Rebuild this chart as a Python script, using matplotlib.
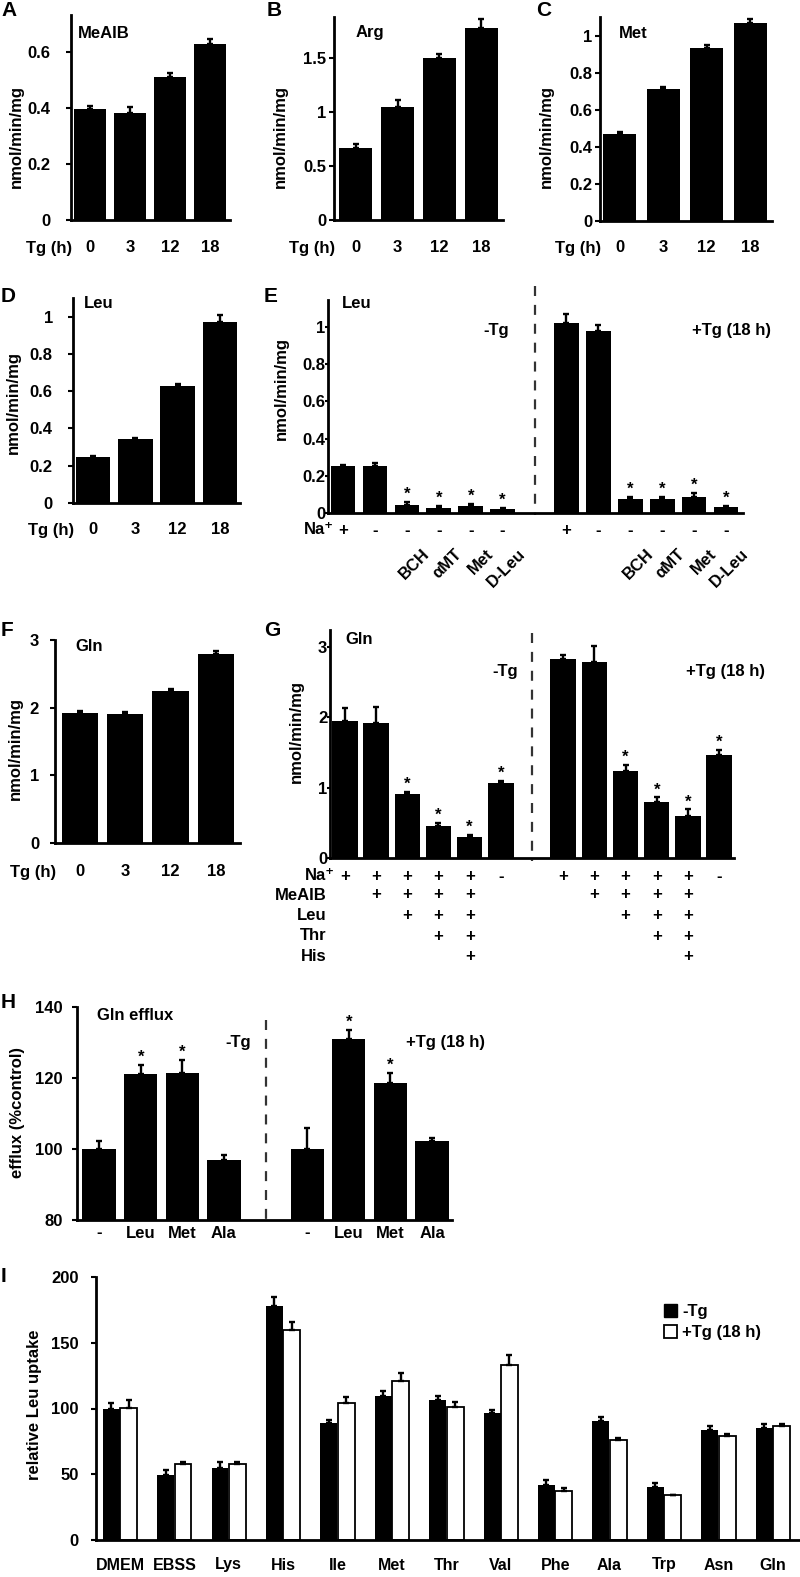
import matplotlib
matplotlib.use("Agg")
import matplotlib.pyplot as plt
from matplotlib.transforms import blended_transform_factory
import numpy as np

plt.rcParams["font.family"] = ["Liberation Sans", "DejaVu Sans"]
plt.rcParams["font.weight"] = "bold"

W, H = 800, 1577
FS = 12

# ---- data ----
tg_hours = ["0", "3", "12", "18"]
meaib = [0.395, 0.38, 0.51, 0.625]
meaib_err = [0.012, 0.022, 0.015, 0.02]
arg = [0.67, 1.05, 1.50, 1.78]
arg_err = [0.03, 0.06, 0.04, 0.08]
met = [0.47, 0.71, 0.935, 1.07]
met_err = [0.01, 0.01, 0.015, 0.02]
leu = [0.245, 0.345, 0.63, 0.97]
leu_err = [0.005, 0.005, 0.01, 0.04]
gln = [1.92, 1.90, 2.25, 2.80]
gln_err = [0.03, 0.03, 0.03, 0.04]

e_na = ["+", "-", "-", "-", "-", "-"]
e_inhib = ["", "", "BCH", "αMT", "Met", "D-Leu"]
e_minus = [0.25, 0.25, 0.045, 0.027, 0.037, 0.022]
e_minus_err = [0.01, 0.02, 0.015, 0.012, 0.013, 0.005]
e_plus = [1.02, 0.98, 0.075, 0.075, 0.085, 0.032]
e_plus_err = [0.05, 0.03, 0.012, 0.012, 0.022, 0.005]
e_star = [False, False, True, True, True, True]

g_rows = ["Na⁺", "MeAIB", "Leu", "Thr", "His"]
g_signs = [["+", "+", "+", "+", "+", "-"],
           ["", "+", "+", "+", "+", ""],
           ["", "", "+", "+", "+", ""],
           ["", "", "", "+", "+", ""],
           ["", "", "", "", "+", ""]]
g_minus = [1.95, 1.92, 0.91, 0.46, 0.30, 1.06]
g_minus_err = [0.18, 0.22, 0.03, 0.04, 0.03, 0.04]
g_plus = [2.83, 2.79, 1.24, 0.80, 0.60, 1.47]
g_plus_err = [0.06, 0.22, 0.08, 0.06, 0.09, 0.07]
g_star = [False, False, True, True, True, True]

h_labels = ["-", "Leu", "Met", "Ala"]
h_minus = [100, 121, 121.5, 97]
h_minus_err = [2.2, 2.7, 3.5, 1.2]
h_plus = [100, 131, 118.5, 102.3]
h_plus_err = [6, 2.5, 3, 0.7]
h_star = [False, True, True, False]

i_labels = ["DMEM", "EBSS", "Lys", "His", "Ile", "Met", "Thr", "Val",
            "Phe", "Ala", "Trp", "Asn", "Gln"]
i_minus = [100, 49.5, 55, 178, 89, 109.5, 106.5, 96.5, 42, 90.5, 40, 83.5, 85]
i_minus_err = [4, 4, 4, 7, 2, 3.5, 3, 2.5, 3.5, 3, 3.5, 3, 3.5]
i_plus = [100.5, 57.5, 58, 159.5, 104.5, 121, 101, 133, 37.5, 76, 34, 79, 87]
i_plus_err = [6, 2, 1.5, 6.5, 4.5, 6, 4, 8, 2, 1.5, 0.5, 1.5, 1.5]

fig = plt.figure(figsize=(W / 100, H / 100), dpi=100)


def fy(y):
    return 1 - y / H


def fx(x):
    return x / W


def make_ax(l, t, r, b, ylim, yticks, ylabels, xlim, pad=3, tlen=3.5):
    ax = fig.add_axes([l / W, 1 - b / H, (r - l) / W, (b - t) / H])
    for s in ["top", "right"]:
        ax.spines[s].set_visible(False)
    for s in ["left", "bottom"]:
        ax.spines[s].set_linewidth(2)
    ax.set_ylim(*ylim)
    ax.set_xlim(*xlim)
    ax.set_yticks(yticks)
    ax.set_yticklabels(ylabels, fontsize=FS, fontweight="bold")
    ax.tick_params(axis="y", length=tlen, width=1.5, pad=pad)
    ax.set_xticks([])
    return ax


def bars(ax, x, vals, errs, color="black", width=0.8, stars=None):
    ax.bar(x, vals, width, color=color, edgecolor="black",
           linewidth=0 if color == "black" else 1.3, zorder=2)
    ax.errorbar(x, vals, yerr=[np.zeros(len(vals)), errs], fmt="none",
                ecolor="black", elinewidth=1.7, capsize=2.5, capthick=1.7, zorder=3)
    if stars:
        for xi, v, e, s in zip(x, vals, errs, stars):
            if s:
                ax.annotate("*", (xi, v + e), xytext=(0, 0), textcoords="offset points",
                            ha="center", va="bottom", fontsize=FS, fontweight="bold")


def row_text(ax, xs, labels, y, fs=FS):
    tr = blended_transform_factory(ax.transData, fig.transFigure)
    for xi, lab in zip(xs, labels):
        ax.text(xi, fy(y), lab, transform=tr, ha="center", va="center",
                fontsize=fs, fontweight="bold")


def letter(x, y, s):
    fig.text(fx(x), fy(y), s, fontsize=15, fontweight="bold", ha="left", va="center")


def ylab(x, y, s):
    fig.text(fx(x), fy(y), s, rotation=90, fontsize=FS, fontweight="bold",
             ha="center", va="center")


def label(x, y, s, ha="left"):
    fig.text(fx(x), fy(y), s, fontsize=FS, fontweight="bold", ha=ha, va="center")


def dashed(ax, x, y0, y1):
    ax.plot([x, x], [y0, y1], transform=blended_transform_factory(ax.transData, fig.transFigure),
            clip_on=False, color="#333333", linestyle=(0, (4.5, 4)), linewidth=1.6)


# ---- simple time-course panels: A, B, C, D, F ----
x4 = np.arange(4)
simple = [
    # letter, box, values, errors, ylim, ticks, tick labels, title, title pos,
    # letter pos, ylabel pos, tick row y, xlim, width, tick pad
    ("A", (71, 15, 230, 220), meaib, meaib_err, (0, 0.73), [0, 0.2, 0.4, 0.6],
     ["0", "0.2", "0.4", "0.6"], "MeAIB", (78, 34), (1, 10), (16, 137), 248,
     (-0.475, 3.5), 0.82, 11),
    ("B", (334, 17, 503, 220), arg, arg_err, (0, 1.88), [0, 0.5, 1, 1.5],
     ["0", "0.5", "1", "1.5"], "Arg", (356, 33), (267, 10), (280, 137), 248,
     (-0.52, 3.52), 0.8, 2),
    ("C", (600, 17, 772, 221), met, met_err, (0, 1.1), [0, 0.2, 0.4, 0.6, 0.8, 1],
     ["0", "0.2", "0.4", "0.6", "0.8", "1"], "Met", (619, 33), (536, 10), (546, 137), 248,
     (-0.45, 3.5), 0.76, 2),
    ("D", (73, 298, 240, 503), leu, leu_err, (0, 1.1), [0, 0.2, 0.4, 0.6, 0.8, 1],
     ["0", "0.2", "0.4", "0.6", "0.8", "1"], "Leu", (84, 304), (1, 296), (13, 402), 530,
     (-0.47, 3.47), 0.82, 11),
    ("F", (55, 640, 240, 843), gln, gln_err, (0, 3), [0, 1, 2, 3],
     ["0", "1", "2", "3"], "Gln", (75, 647), (1, 630), (15, 748), 872,
     (-0.55, 3.53), 0.8, 8),
]
for (let, bx, vals, errs, yl, yt, ytl, name, tpos, lpos, ypos, rowy,
     xlim, wid, pad) in simple:
    l, t, r, b = bx
    ax = make_ax(l, t, r, b, yl, yt, ytl, xlim, pad=pad)
    bars(ax, x4, vals, errs, width=wid)
    row_text(ax, x4, tg_hours, rowy)
    label(l + 1, rowy, "Tg (h)", ha="right")
    letter(lpos[0], lpos[1], let)
    label(tpos[0], tpos[1], name)
    ylab(ypos[0], ypos[1], "nmol/min/mg")

# ---- E ----
xl = np.arange(6)
xr = np.arange(7, 13)
ax = make_ax(328, 300, 743, 513, (0, 1.145), [0, 0.2, 0.4, 0.6, 0.8, 1],
             ["0", "0.2", "0.4", "0.6", "0.8", "1"], (-0.47, 12.53), pad=0, tlen=2)
bars(ax, xl, e_minus, e_minus_err, width=0.77, stars=e_star)
bars(ax, xr, e_plus, e_plus_err, width=0.77, stars=e_star)
dashed(ax, 6, fy(286), fy(515))
row_text(ax, xl, e_na, 530)
row_text(ax, xr, e_na, 530)
label(334, 530, "Na⁺", ha="right")
tr = blended_transform_factory(ax.transData, fig.transFigure)
for xs in (xl, xr):
    for xi, lab in zip(xs, e_inhib):
        if lab:
            ax.text(xi + 0.47, fy(546), lab, transform=tr, rotation=45,
                    rotation_mode="anchor", ha="right", va="top",
                    fontsize=FS, fontweight="bold")
letter(264, 296, "E")
label(342, 303, "Leu")
label(496, 330, "-Tg", ha="center")
label(732, 330, "+Tg (18 h)", ha="center")
ylab(281, 388, "nmol/min/mg")

# ---- G ----
ax = make_ax(330, 630, 734, 858, (0, 3.24), [0, 1, 2, 3], ["0", "1", "2", "3"],
             (-0.48, 12.48), pad=0, tlen=2)
bars(ax, xl, g_minus, g_minus_err, width=0.82, stars=g_star)
bars(ax, xr, g_plus, g_plus_err, width=0.82, stars=g_star)
dashed(ax, 6, fy(633), fy(861))
row_ys = [876, 895, 916, 936, 957]
for name, signs, ry in zip(g_rows, g_signs, row_ys):
    row_text(ax, xl, signs, ry)
    row_text(ax, xr, signs, ry)
    label(335 if name.startswith("Na") else 327, ry, name, ha="right")
letter(264, 630, "G")
label(345, 640, "Gln")
label(505, 672, "-Tg", ha="center")
label(725, 672, "+Tg (18 h)", ha="center")
ylab(296, 732, "nmol/min/mg")

# ---- H ----
hl = np.arange(4)
hr = np.arange(5, 9)
ax = make_ax(77, 1007, 452, 1220, (80, 140), [80, 100, 120, 140],
             ["80", "100", "120", "140"], (-0.53, 8.48), pad=7)
bars(ax, hl, h_minus, h_minus_err, width=0.8, stars=h_star)
bars(ax, hr, h_plus, h_plus_err, width=0.8, stars=h_star)
dashed(ax, 4, fy(1020), fy(1222))
row_text(ax, hl, h_labels, 1233)
row_text(ax, hr, h_labels, 1233)
letter(1, 1002, "H")
label(97, 1015, "Gln efflux")
label(238, 1043, "-Tg", ha="center")
label(445, 1043, "+Tg (18 h)", ha="center")
ylab(18, 1112, "efflux (%control)")

# ---- I ----
xi = np.arange(len(i_labels))
ax = make_ax(96, 1277, 800, 1540, (0, 200), [0, 50, 100, 150, 200],
             ["0", "50", "100", "150", "200"], (-0.44, 12.5), pad=9)
bars(ax, xi - 0.16, i_minus, i_minus_err, color="black", width=0.31)
bars(ax, xi + 0.16, i_plus, i_plus_err, color="white", width=0.31)
row_text(ax, xi, i_labels, 1565, fs=11.5)
letter(1, 1277, "I")
ylab(35, 1405, "relative Leu uptake")
ax.legend(handles=[plt.Rectangle((0, 0), 1, 1, fc="black", ec="black"),
                   plt.Rectangle((0, 0), 1, 1, fc="white", ec="black", lw=1.3)],
          labels=["-Tg", "+Tg (18 h)"], loc="upper left",
          bbox_to_anchor=(fx(664), fy(1304)), bbox_transform=fig.transFigure,
          borderaxespad=0, borderpad=0, frameon=False, handlelength=0.8,
          handleheight=0.8, handletextpad=0.3, labelspacing=0.35,
          prop={"size": FS, "weight": "bold"})

fig.savefig("out.png", dpi=100)
